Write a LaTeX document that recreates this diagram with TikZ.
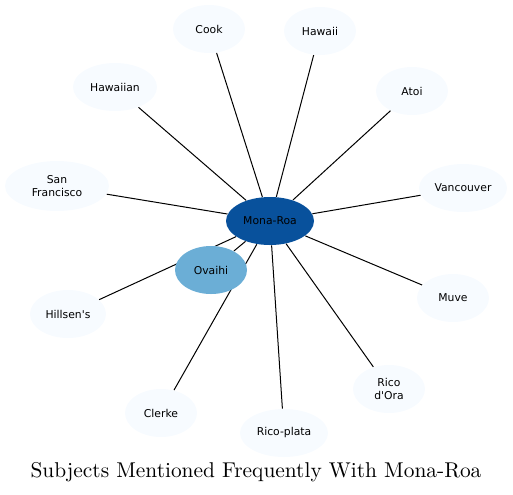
\documentclass[tikz,border=0pt]{standalone}
\usepackage{fontspec}
\usetikzlibrary{shapes.geometric,backgrounds}
\newfontfamily\nodefont{DejaVu Sans}
\definecolor{leafblue}{HTML}{F7FBFF}
\definecolor{hubblue}{HTML}{08519C}
\definecolor{midblue}{HTML}{6BAED6}
\tikzset{
  topic/.style={ellipse, fill=leafblue, inner sep=0pt, minimum width=36pt, minimum height=24pt,
    align=center, font=\nodefont\fontsize{5.4}{6.2}\selectfont},
  link/.style={line width=0.5pt}
}
\begin{document}
\begin{tikzpicture}[x=0.5pt,y=-0.5pt]
\useasboundingbox (0,0) rectangle (513,494);
\node[topic, fill=hubblue, minimum width=44pt] (mona) at (270,221) {Mona-Roa};
\node[topic, fill=midblue] (ovaihi) at (211,270) {Ovaihi};

\node[topic] (cook) at (209,29) {Cook};
\node[topic] (hawaii) at (320,31) {Hawaii};
\node[topic, minimum width=42pt] (hawaiian) at (115,87) {Hawaiian};
\node[topic] (atoi) at (412,91) {Atoi};
\node[topic, minimum width=52pt, minimum height=25pt] (sanfran) at (57,186) {San\\Francisco};
\node[topic, minimum width=44pt] (vancouver) at (463,188) {Vancouver};
\node[topic] (muve) at (453,298) {Muve};
\node[topic, minimum width=38pt] (hillsens) at (68,314) {Hillsen\textquotesingle s};
\node[topic] (ricodora) at (389,389) {Rico\\d\textquotesingle Ora};
\node[topic] (clerke) at (161,413) {Clerke};
\node[topic, minimum width=44pt] (ricoplata) at (284,433) {Rico-plata};

\begin{scope}[on background layer]
\foreach \n in {ovaihi,cook,hawaii,hawaiian,atoi,sanfran,vancouver,muve,hillsens,ricodora,clerke,ricoplata} {
    \draw[link] (\n) -- (mona);
}
\end{scope}

\node (title) at (256,472) {\fontsize{10.7}{12.5}\selectfont Subjects Mentioned Frequently With Mona-Roa};
\end{tikzpicture}
\end{document}
